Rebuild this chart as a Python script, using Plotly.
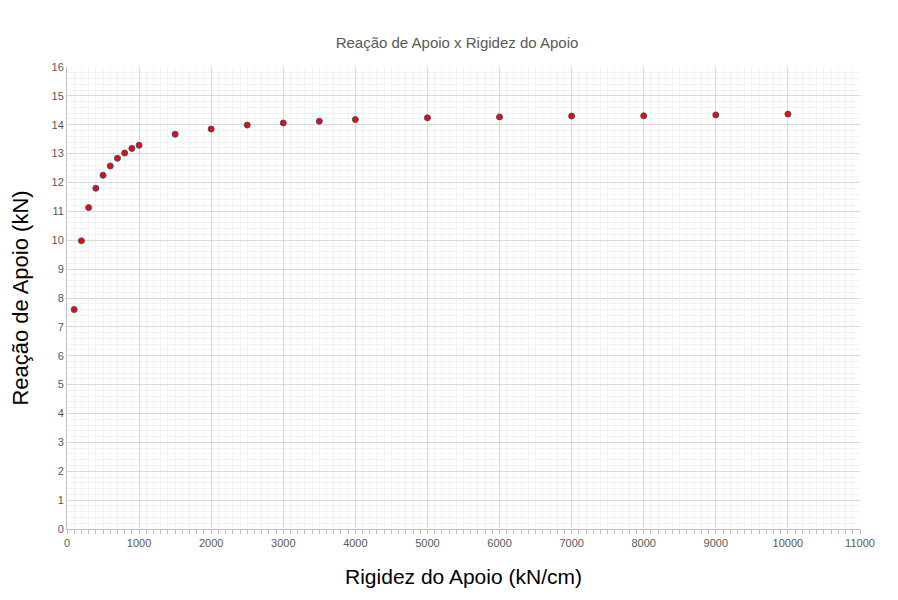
import plotly.graph_objects as go

rigidez = [100, 200, 300, 400, 500, 600, 700, 800, 900, 1000, 1500, 2000, 2500,
           3000, 3500, 4000, 5000, 6000, 7000, 8000, 9000, 10000]
reacao = [7.6, 9.98, 11.13, 11.8, 12.25, 12.57, 12.84, 13.02, 13.18, 13.29, 13.67,
          13.85, 13.99, 14.06, 14.12, 14.18, 14.24, 14.27, 14.3, 14.31, 14.34, 14.37]

titulo = "Reação de Apoio x Rigidez do Apoio"
x_titulo = "Rigidez do Apoio (kN/cm)"
y_titulo = "Reação de Apoio (kN)"

fig = go.Figure()
fig.add_trace(go.Scatter(
    x=rigidez, y=reacao, mode="markers",
    marker=dict(size=6, color="#ff0000", line=dict(color="#2e5a7a", width=1)),
    showlegend=False,
))

fig.update_layout(
    width=898, height=600,
    paper_bgcolor="white", plot_bgcolor="white",
    margin=dict(l=56, r=46, t=59, b=79),
    font=dict(family="Liberation Sans, Arial, sans-serif", color="#595959"),
    title=dict(text=titulo, x=0.5, xanchor="center", y=1 - 35 / 600, yanchor="middle",
               font=dict(size=15, color="#595959")),
)

fig.update_xaxes(
    range=[0, 11000], dtick=1000, tick0=0, tickformat="d",
    showgrid=True, gridcolor="#d9d9d9", gridwidth=1,
    showline=True, linecolor="#bfbfbf", linewidth=1,
    ticks="outside", ticklen=4, tickcolor="#bfbfbf",
    tickfont=dict(size=11, color="#595959"),
    zeroline=False,
    minor=dict(dtick=100, showgrid=True, gridcolor="#f2f2f2", gridwidth=1,
               ticks="outside", ticklen=4, tickcolor="#bfbfbf"),
    title=dict(text=x_titulo, font=dict(size=21, color="#000000"), standoff=21),
)
fig.update_yaxes(
    range=[0, 16], dtick=1, tick0=0,
    showgrid=True, gridcolor="#d9d9d9", gridwidth=1,
    showline=True, linecolor="#bfbfbf", linewidth=1,
    ticks="", tickfont=dict(size=11, color="#595959"),
    zeroline=False,
    minor=dict(dtick=0.2, showgrid=True, gridcolor="#f2f2f2", gridwidth=1),
    title=dict(text=y_titulo, font=dict(size=22, color="#000000"), standoff=16),
)

fig.write_html("out.html")
